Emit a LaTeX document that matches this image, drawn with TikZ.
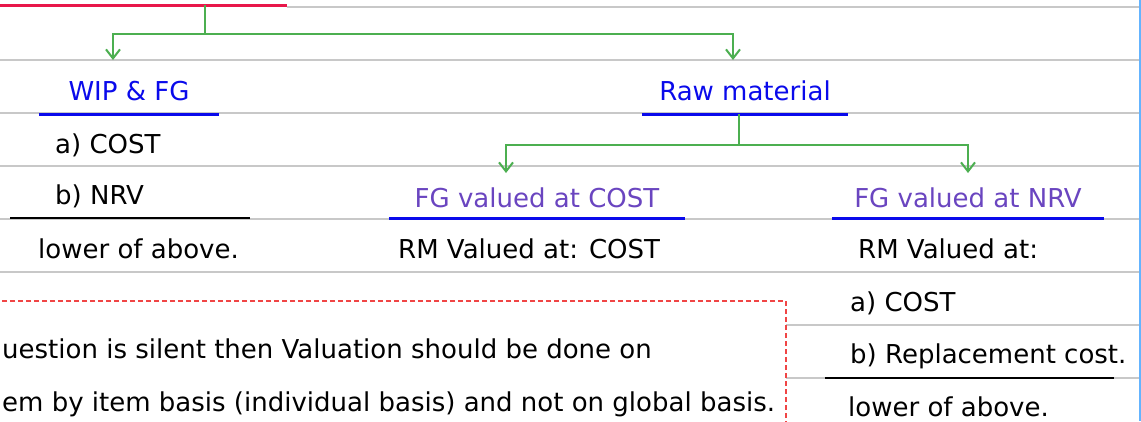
\documentclass[tikz,border=0pt]{standalone}
\usepackage{fontspec}
\setmainfont{DejaVu Sans}
\usetikzlibrary{arrows.meta,positioning}
\definecolor{invgreen}{HTML}{4CAF50}
\definecolor{invblue}{HTML}{0A0AEB}
\definecolor{invpurple}{HTML}{6A45C0}
\definecolor{invrule}{HTML}{C8C8C8}
\definecolor{invred}{HTML}{E8174A}
\definecolor{invdash}{HTML}{F04545}
\definecolor{invmargin}{HTML}{64B4FF}

\begin{document}
\begin{tikzpicture}[x=1pt,y=-1pt, every node/.style={font=\fontsize{26}{30}\selectfont,inner sep=0pt}]
\tikzset{ruled/.style={invrule,line width=2pt},
  conn/.style={-{Straight Barb[length=9pt,width=14pt]},invgreen,line width=2pt},
  head/.style={text=invblue,anchor=north,text height=40pt,text depth=14pt},
  subhead/.style={text=invpurple,anchor=north,text height=34pt,text depth=11pt},
  uline/.style={invblue,line width=2.5pt},
  sumline/.style={black,line width=2pt},
  txt/.style={anchor=base west},
  notebox/.style={draw=invdash,fill=white,dash pattern=on 5pt off 3pt,line width=2pt}}
\useasboundingbox (0,0) rectangle (1141,421);
\fill[white] (0,0) rectangle (1141,421);
% ruled paper
\draw[ruled] (287,7) -- (1141,7);
\foreach \r in {1,...,7} \draw[ruled] (0,7+53*\r) -- (1141,7+53*\r);
\draw[invmargin,line width=2pt] (1140,0) -- (1140,421);
\draw[invred,line width=3pt] (0,5) -- (287,5);
\coordinate (top) at (205,5);

\node[head,minimum width=180pt] (wip) at (129,60) {WIP \& FG};
\node[head,minimum width=205pt] (raw) at (745,60) {Raw material};
\draw[uline] (wip.south west) -- (wip.south east);
\draw[uline] (raw.south west) -- (raw.south east);
\draw[conn] (top) -- ++(0,29) -| ([xshift=-16pt]wip.north);
\draw[conn] (top) -- ++(0,29) -| ([xshift=-12pt]raw.north);

\node[txt] (wcost) at (55,153) {a) COST};
\node[txt] (wnrv) at (55,204) {b) NRV};
\draw[sumline] (10,218) -- (250,218);
\node[txt] (wlow) at (38,258) {lower of above.};

\node[subhead,minimum width=296pt] (fgcost) at (537,173) {FG valued at COST};
\node[subhead,minimum width=272pt] (fgnrv) at (968,173) {FG valued at NRV};
\draw[uline] (fgcost.south west) -- (fgcost.south east);
\draw[uline] (fgnrv.south west) -- (fgnrv.south east);
\draw[conn] ([xshift=-6pt]raw.south) -- ++(0,31) -| ([xshift=-31pt]fgcost.north);
\draw[conn] ([xshift=-6pt]raw.south) -- ++(0,31) -| (fgnrv.north);

\node[txt] (rmcost) at (398,258) {RM Valued at: COST};
\node[txt] (rmnrv) at (858,258) {RM Valued at:};
\node[txt] (rcost) at (850,311) {a) COST};
\node[txt] (rrepl) at (850,363) {b) Replacement cost.};
\draw[sumline] (825,378) -- (1114,378);
\node[txt] (rlow) at (848,416) {lower of above.};

\draw[notebox] (-5,301) rectangle (786,440);
\node[txt] (note1) at (2,358) {uestion is silent then Valuation should be done on};
\node[txt] (note2) at (2,411) {em by item basis (individual basis) and not on global basis.};
\end{tikzpicture}
\end{document}
